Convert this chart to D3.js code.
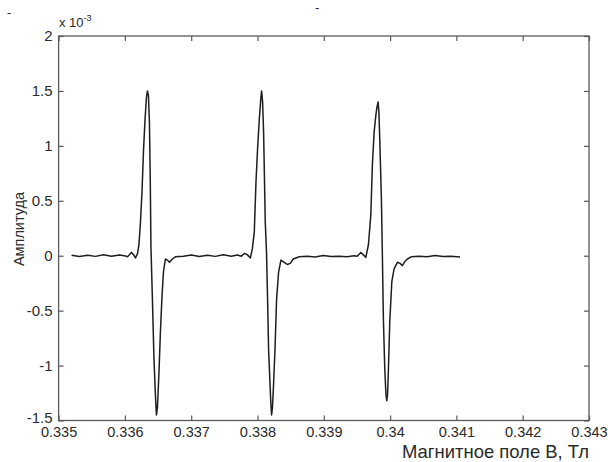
<!DOCTYPE html>
<html><head><meta charset="utf-8">
<script src="https://cdn.jsdelivr.net/npm/d3@7"></script>
<style>
body{margin:0;background:#fff;}
svg text{font-family:"Liberation Sans",Arial,sans-serif;fill:#2a2a2a;}
</style></head>
<body><svg id="c" width="608" height="462"></svg>
<script>
// Field, T
const fieldB = [
0.335196,0.335316,0.335437,0.335557,0.335678,0.335798,0.335919,0.336009,0.336039,0.336099,0.336130,0.336160,0.336190,
0.336212,0.336235,0.336258,0.336280,0.336303,0.336325,0.336340,0.336355,0.336370,0.336383,0.336393,0.336416,0.336438,
0.336461,0.336476,0.336491,0.336514,0.336536,0.336559,0.336581,0.336611,0.336642,0.336672,0.336717,0.336762,
0.336883,0.337003,0.337123,0.337244,0.337364,0.337485,0.337605,0.337696,
0.337756,0.337801,0.337846,0.337892,0.337922,0.337952,0.337977,0.338001,0.338027,0.338050,0.338062,0.338077,0.338092,
0.338117,0.338137,0.338152,0.338167,0.338188,0.338200,0.338212,0.338226,0.338242,0.338264,0.338288,0.338318,0.338354,
0.338404,0.338449,0.338494,0.338539,
0.338630,0.338750,0.338870,0.338991,0.339111,0.339232,0.339352,0.339458,
0.339503,0.339559,0.339593,0.339634,0.339673,0.339709,0.339733,0.339759,0.339785,0.339804,0.339819,0.339831,0.339845,
0.339869,0.339884,0.339899,0.339920,0.339937,0.339950,0.339962,0.339974,0.339995,0.340026,0.340060,0.340110,0.340151,
0.340185,0.340226,0.340261,0.340316,
0.340437,0.340557,0.340678,0.340798,0.340919,0.341054
];
// Amplitude, x 10^-3
const amplitude = [
0.005,-0.008,0.004,-0.006,0.008,-0.004,0.006,-0.002,-0.01,0.03,0.01,-0.02,0.02,
0.10,0.31,0.58,0.95,1.23,1.44,1.50,1.46,1.21,0.67,0.08,-0.42,-0.93,
-1.28,-1.45,-1.38,-1.06,-0.69,-0.375,-0.15,-0.03,-0.04,-0.06,-0.03,-0.01,
-0.005,0.006,-0.008,0.004,-0.006,0.008,-0.004,0.006,
-0.004,0.02,0.01,-0.02,0.06,0.22,0.67,0.97,1.24,1.43,1.50,1.40,1.125,
0.31,0.01,-0.395,-0.85,-1.155,-1.33,-1.45,-1.38,-1.175,-0.85,-0.395,-0.15,-0.04,
-0.06,-0.08,-0.07,-0.03,
-0.01,-0.005,-0.012,0.002,-0.008,-0.004,-0.01,0.0,
-0.005,0.03,0.01,-0.015,0.10,0.37,0.83,1.125,1.28,1.36,1.40,1.31,1.04,
0.51,-0.01,-0.58,-1.035,-1.26,-1.32,-1.26,-1.05,-0.60,-0.235,-0.12,-0.06,-0.07,
-0.09,-0.05,-0.03,-0.01,
-0.005,-0.01,0.002,-0.008,-0.004,-0.012
];
const xTicks = [0.335,0.336,0.337,0.338,0.339,0.340,0.341,0.342,0.343];
const xTickLabels = ["0.335","0.336","0.337","0.338","0.339","0.34","0.341","0.342","0.343"];
const yTicks = [-1.5,-1,-0.5,0,0.5,1,1.5,2];
const yTickLabels = ["-1.5","-1","-0.5","0","0.5","1","1.5","2"];

const L=58.6, R=589, T=36, B=420.5;
const svg=d3.select("#c");
const x=d3.scaleLinear().domain([0.335,0.343]).range([L,R]);
const y=d3.scaleLinear().domain([-1.5,2]).range([B,T]);
const axisColor="#585860";

svg.append("rect").attr("x",L).attr("y",T).attr("width",R-L).attr("height",B-T)
  .attr("fill","#fff").attr("stroke",axisColor).attr("stroke-width",1.3);

const gx=svg.append("g").attr("transform",`translate(0,${B})`)
  .call(d3.axisBottom(x).tickValues(xTicks).tickSize(-5).tickPadding(6).tickFormat((d,i)=>xTickLabels[i]));
const gxt=svg.append("g").attr("transform",`translate(0,${T})`)
  .call(d3.axisTop(x).tickValues(xTicks).tickSize(-5).tickFormat(""));
const gy=svg.append("g").attr("transform",`translate(${L},0)`)
  .call(d3.axisLeft(y).tickValues(yTicks).tickSize(-5).tickPadding(6).tickFormat((d,i)=>yTickLabels[i]));
const gyr=svg.append("g").attr("transform",`translate(${R},0)`)
  .call(d3.axisRight(y).tickValues(yTicks).tickSize(-5).tickFormat(""));
[gx,gxt,gy,gyr].forEach(g=>{
  g.select(".domain").remove();
  g.selectAll(".tick line").attr("stroke",axisColor).attr("stroke-width",1.2);
  g.selectAll("text").attr("fill","#2a2a2a").attr("font-family","Liberation Sans, Arial, sans-serif");
});
gx.selectAll("text").attr("font-size",14.5);
gy.selectAll("text").attr("font-size",15);
gy.selectAll(".tick").filter(d=>d===-1.5).select("text").attr("dy","0.12em");

// line
const pts=fieldB.map((b,i)=>[b,amplitude[i]]);
svg.append("path").datum(pts)
  .attr("fill","none").attr("stroke","#1e1e1e").attr("stroke-width",1.5).attr("stroke-linejoin","round")
  .attr("d",d3.line().x(d=>x(d[0])).y(d=>y(d[1])));

// exponent label
const ex=svg.append("text").attr("x",59).attr("y",27).attr("font-size",13);
ex.append("tspan").text("x 10");
ex.append("tspan").attr("font-size",9).attr("dy",-6).text("-3");

// axis labels
svg.append("text").attr("x",402).attr("y",458).attr("font-size",18.5)
  .attr("textLength",187).attr("lengthAdjust","spacingAndGlyphs")
  .text("Магнитное поле B, Тл");
svg.append("text").attr("transform","translate(24,229) rotate(-90)").attr("text-anchor","middle").attr("font-size",14.5)
  .text("Амплитуда");

// stray marks present in the reference
svg.append("text").attr("x",7).attr("y",17).attr("font-size",13).text("-");
svg.append("text").attr("x",315).attr("y",12).attr("font-size",13).text("-");
</script></body></html>
